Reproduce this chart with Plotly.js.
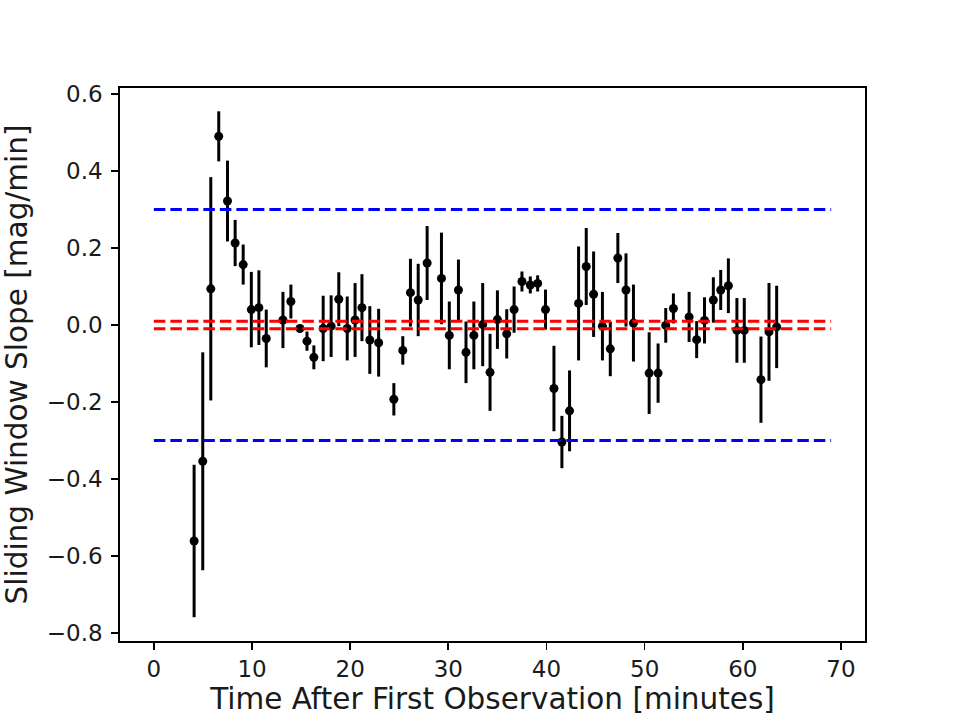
<!DOCTYPE html>
<html>
<head>
<meta charset="utf-8">
<script src="https://cdn.plot.ly/plotly-3.0.1.min.js"></script>
<style>html,body{margin:0;padding:0;background:#fff;}#chart{width:961px;height:721px;}</style>
</head>
<body>
<div id="chart"></div>
<script>
const timeMin = [4.1, 4.98, 5.8, 6.61, 7.5, 8.28, 9.1, 9.93, 10.7, 11.45, 13.15, 13.96, 14.88, 15.6, 16.3, 17.25, 18.06, 18.84, 19.7, 20.5, 21.2, 22.0, 22.9, 24.45, 25.36, 26.14, 26.93, 27.84, 29.3, 30.1, 31.03, 31.8, 32.6, 33.5, 34.25, 35.0, 35.95, 36.7, 37.5, 38.35, 39.1, 39.9, 40.76, 41.57, 42.35, 43.27, 44.05, 44.8, 45.7, 46.5, 47.27, 48.1, 48.86, 50.46, 51.37, 52.15, 52.93, 54.53, 55.3, 56.1, 57.0, 57.75, 58.53, 59.4, 60.15, 61.85, 62.67, 63.45];
const slope = [-0.561, -0.354, 0.094, 0.490, 0.322, 0.213, 0.157, 0.040, 0.045, -0.035, 0.013, 0.061, -0.009, -0.042, -0.084, -0.009, -0.003, 0.067, -0.009, 0.013, 0.045, -0.039, -0.046, -0.193, -0.066, 0.084, 0.065, 0.161, 0.121, -0.027, 0.091, -0.071, -0.027, 0.001, -0.123, 0.014, -0.023, 0.040, 0.113, 0.104, 0.108, 0.040, -0.165, -0.304, -0.223, 0.056, 0.152, 0.080, -0.003, -0.062, 0.174, 0.091, 0.005, -0.125, -0.125, -0.001, 0.043, 0.021, -0.038, 0.012, 0.065, 0.091, 0.102, -0.014, -0.014, -0.142, -0.018, -0.005];
const slopeErr = [0.198, 0.283, 0.29, 0.065, 0.105, 0.06, 0.052, 0.098, 0.097, 0.075, 0.073, 0.044, 0.01, 0.025, 0.031, 0.085, 0.08, 0.07, 0.083, 0.096, 0.087, 0.088, 0.088, 0.042, 0.037, 0.088, 0.094, 0.096, 0.119, 0.088, 0.079, 0.08, 0.088, 0.108, 0.1, 0.076, 0.064, 0.06, 0.026, 0.022, 0.021, 0.052, 0.111, 0.068, 0.105, 0.148, 0.1, 0.111, 0.089, 0.071, 0.065, 0.095, 0.1, 0.106, 0.077, 0.045, 0.039, 0.065, 0.048, 0.06, 0.059, 0.052, 0.071, 0.084, 0.084, 0.112, 0.127, 0.107];
const lineSpan = [0, 69];
const blueLevels = [0.3, -0.3];
const redLevels = [0.01, -0.01];
const xTicks = [0, 10, 20, 30, 40, 50, 60, 70];
const yTicks = [-0.8, -0.6, -0.4, -0.2, 0.0, 0.2, 0.4, 0.6];

const traces = [{
  x: timeMin, y: slope, type: 'scatter', mode: 'markers',
  marker: {color: 'black', size: 9},
  error_y: {type: 'data', array: slopeErr, visible: true, color: 'black', thickness: 3, width: 0},
  showlegend: false, hoverinfo: 'skip'
}];
const dash = '11.5px,5px';
blueLevels.forEach(v => traces.push({x: lineSpan, y: [v, v], mode: 'lines', line: {color: '#0000ff', width: 3, dash: dash}, showlegend: false}));
redLevels.forEach(v => traces.push({x: lineSpan, y: [v, v], mode: 'lines', line: {color: '#ff0000', width: 3, dash: dash}, showlegend: false}));

const axisCommon = {
  showline: true, mirror: true, linecolor: 'black', linewidth: 1.7,
  ticks: 'outside', ticklen: 7, tickwidth: 1.7, tickcolor: 'black',
  showgrid: false, zeroline: false,
  tickfont: {family: 'DejaVu Sans', size: 23, color: '#1a1a1a'}
};
const layout = {
  width: 961, height: 721,
  margin: {l: 120, r: 96, t: 88, b: 80},
  paper_bgcolor: 'white', plot_bgcolor: 'white',
  xaxis: Object.assign({}, axisCommon, {
    range: [-3.45, 72.45], tickvals: xTicks, ticktext: xTicks.map(String),
    ticklabelstandoff: 0,
    title: {text: 'Time After First Observation [minutes]', font: {family: 'DejaVu Sans', size: 29.5, color: '#1a1a1a'}, standoff: 3},
    automargin: false
  }),
  yaxis: Object.assign({}, axisCommon, {
    range: [-0.8208, 0.6156], tickvals: yTicks, tickformat: '.1f',
    ticklabelstandoff: 4,
    title: {text: 'Sliding Window Slope [mag/min]', font: {family: 'DejaVu Sans', size: 29.5, color: '#1a1a1a'}, standoff: 12},
    automargin: false
  })
};
Plotly.newPlot('chart', traces, layout, {staticPlot: true});
</script>
</body>
</html>
